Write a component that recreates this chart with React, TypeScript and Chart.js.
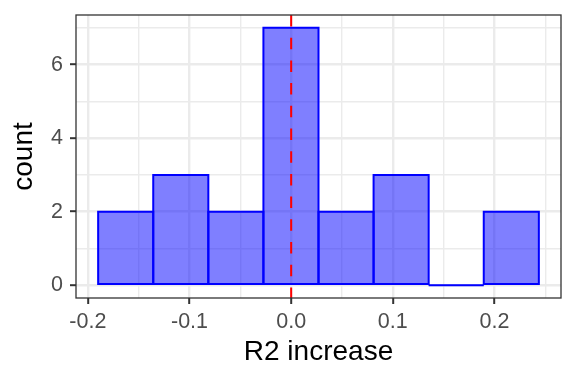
import React, { useEffect, useRef } from "react";
import { Chart, registerables } from "chart.js";

Chart.register(...registerables);

// ---- data ----
const binCenters = [-0.1628, -0.1086, -0.0544, -0.0002, 0.054, 0.1082, 0.1624, 0.2166];
const counts = [2, 3, 2, 7, 2, 3, 0, 2];
const xMajorTicks = [-0.2, -0.1, 0, 0.1, 0.2];
const xTickLabels = ["-0.2", "-0.1", "0.0", "0.1", "0.2"];
const xMinorTicks = [-0.15, -0.05, 0.05, 0.15, 0.25];
const yMajorTicks = [0, 2, 4, 6];
const yTickLabels = ["0", "2", "4", "6"];
const yMinorTicks = [1, 3, 5, 7];
const vlineValue = 0;
const xRange = [-0.2117, 0.2655];
const yRange = [-0.35, 7.35];

const FONT = "'Liberation Sans', Arial, Helvetica, sans-serif";

const near = (arr: number[], v: number) => arr.findIndex((a) => Math.abs(a - v) < 1e-9);

const overlayPlugin = {
  id: "overlay",
  afterDatasetsDraw(chart: any) {
    const { ctx, chartArea } = chart;
    const meta = chart.getDatasetMeta(0);
    ctx.save();
    ctx.beginPath();
    ctx.rect(chartArea.left, chartArea.top, chartArea.right - chartArea.left, chartArea.bottom - chartArea.top);
    ctx.clip();
    ctx.strokeStyle = "#0000FF";
    ctx.lineWidth = 2;
    ctx.lineJoin = "miter";
    meta.data.forEach((el: any) => {
      const { x, y, base, width } = el.getProps(["x", "y", "base", "width"], true);
      const left = x - width / 2;
      const top = Math.min(y, base);
      const h = Math.abs(base - y);
      ctx.beginPath();
      if (h < 0.5) {
        ctx.moveTo(left, base);
        ctx.lineTo(left + width, base);
      } else {
        ctx.rect(left, top, width, h);
      }
      ctx.stroke();
    });
    const vx = chart.scales.x.getPixelForValue(vlineValue);
    ctx.beginPath();
    ctx.setLineDash([11.5, 11.2]);
    ctx.strokeStyle = "#FF0000";
    ctx.lineWidth = 2;
    ctx.moveTo(vx, chartArea.top);
    ctx.lineTo(vx, chartArea.bottom);
    ctx.stroke();
    ctx.restore();
  },
  afterDraw(chart: any) {
    const { ctx, chartArea } = chart;
    ctx.save();
    ctx.strokeStyle = "#333333";
    ctx.lineWidth = 1.3;
    ctx.strokeRect(chartArea.left, chartArea.top, chartArea.right - chartArea.left, chartArea.bottom - chartArea.top);
    ctx.restore();
  },
};

export default function App() {
  const ref = useRef<HTMLCanvasElement | null>(null);
  useEffect(() => {
    if (!ref.current) return;
    const chart = new Chart(ref.current, {
      type: "bar",
      data: {
        datasets: [
          {
            data: binCenters.map((x, i) => ({ x, y: counts[i] })),
            backgroundColor: "rgba(0,0,255,0.5)",
            borderWidth: 0,
            barThickness: "flex",
            barPercentage: 1,
            categoryPercentage: 1,
          } as any,
        ],
      },
      options: {
        animation: false,
        responsive: false,
        devicePixelRatio: 1,
        layout: { padding: { top: 15, right: 15, left: 0, bottom: 0 } },
        plugins: { legend: { display: false }, tooltip: { enabled: false } },
        scales: {
          x: {
            type: "linear",
            min: xRange[0],
            max: xRange[1],
            offset: false,
            afterBuildTicks: (s: any) => {
              s.ticks = [...xMajorTicks, ...xMinorTicks].sort((a, b) => a - b).map((v) => ({ value: v }));
            },
            afterFit: (s: any) => {
              s.height = 86;
              s.paddingLeft = 0;
              s.paddingRight = 0;
            },
            border: { display: false },
            grid: {
              offset: false,
              color: "#EBEBEB",
              lineWidth: (c: any) => (c.tick && near(xMajorTicks, c.tick.value) >= 0 ? 2.4 : 1.4),
              tickColor: (c: any) => (c.tick && near(xMajorTicks, c.tick.value) >= 0 ? "#333333" : "rgba(0,0,0,0)"),
              tickLength: 6,
              tickWidth: 2,
            } as any,
            ticks: {
              autoSkip: false,
              maxRotation: 0,
              minRotation: 0,
              padding: 5,
              color: "#4D4D4D",
              font: { family: FONT, size: 21.5 },
              callback: (v: any) => {
                const i = near(xMajorTicks, Number(v));
                return i >= 0 ? xTickLabels[i] : "";
              },
            },
            title: {
              display: true,
              text: "R2 increase",
              color: "#000000",
              font: { family: FONT, size: 28 },
              padding: { top: 0, bottom: 15 },
            },
          },
          y: {
            type: "linear",
            min: yRange[0],
            max: yRange[1],
            afterBuildTicks: (s: any) => {
              s.ticks = [...yMajorTicks, ...yMinorTicks].sort((a, b) => a - b).map((v) => ({ value: v }));
            },
            afterFit: (s: any) => {
              s.width = 76;
              s.paddingTop = 0;
              s.paddingBottom = 0;
            },
            border: { display: false },
            grid: {
              color: "#EBEBEB",
              lineWidth: (c: any) => (c.tick && near(yMajorTicks, c.tick.value) >= 0 ? 2.4 : 1.4),
              tickColor: (c: any) => (c.tick && near(yMajorTicks, c.tick.value) >= 0 ? "#333333" : "rgba(0,0,0,0)"),
              tickLength: 6,
              tickWidth: 2,
            } as any,
            ticks: {
              autoSkip: false,
              padding: 7,
              color: "#4D4D4D",
              font: { family: FONT, size: 21.5 },
              callback: (v: any) => {
                const i = near(yMajorTicks, Number(v));
                return i >= 0 ? yTickLabels[i] : "";
              },
            },
            title: {
              display: true,
              text: "count",
              color: "#000000",
              font: { family: FONT, size: 28 },
              padding: { top: 7, bottom: 0 },
            },
          },
        },
      },
      plugins: [overlayPlugin],
    });
    return () => chart.destroy();
  }, []);
  return (
    <div style={{ position: "absolute", left: 0, top: 0, width: 576, height: 384, background: "#FFFFFF" }}>
      <canvas ref={ref} width={576} height={384} style={{ display: "block", width: 576, height: 384 }} />
    </div>
  );
}
